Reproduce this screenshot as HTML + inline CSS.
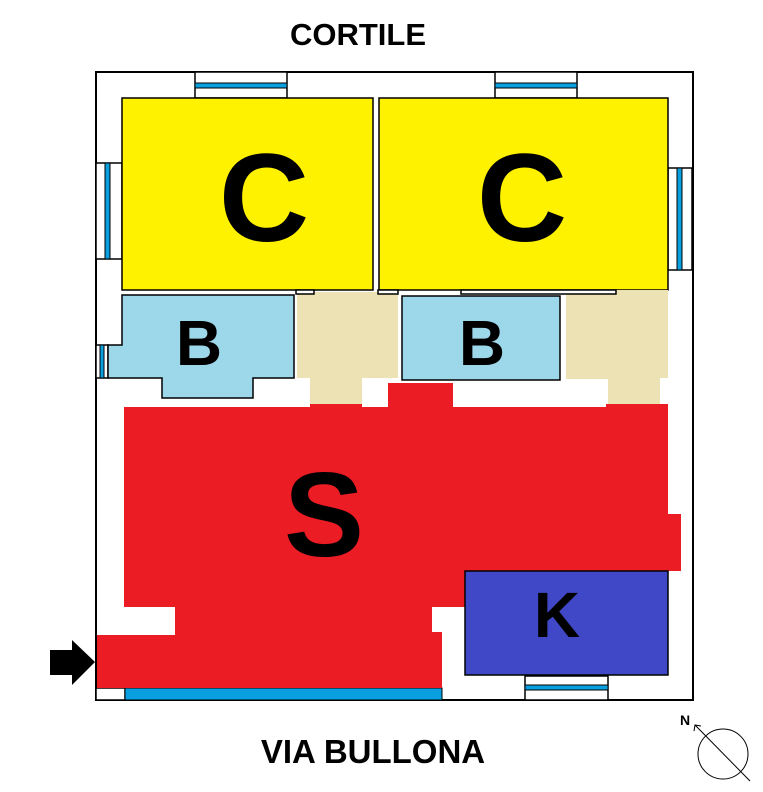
<!DOCTYPE html>
<html><head><style>body{margin:0;background:#fff}svg{display:block}</style></head><body>
<svg width="763" height="792" viewBox="0 0 763 792" xmlns="http://www.w3.org/2000/svg" font-family="Liberation Sans, sans-serif" font-weight="bold">
<rect x="96" y="72" width="597" height="628" fill="#fff" stroke="#000" stroke-width="2"/>
<!-- windows -->
<g stroke="#000" stroke-width="1.5" fill="#fff">
<rect x="195" y="72" width="92" height="26"/><rect x="495" y="72" width="82" height="26"/>
<rect x="96" y="163" width="26" height="96"/><rect x="668" y="168" width="24" height="102"/>
<rect x="96" y="345" width="12" height="33"/>
<rect x="525" y="676" width="83" height="24"/>
<rect x="96" y="688" width="29" height="12"/>
</g>
<g fill="#0aa0e0" stroke="#000" stroke-width="1">
<rect x="195" y="83" width="92" height="5"/><rect x="495" y="83" width="82" height="5"/>
<rect x="105" y="163" width="5" height="96"/><rect x="677" y="168" width="5" height="102"/>
<rect x="100" y="345" width="4" height="33"/>
<rect x="525" y="685" width="83" height="5"/>
<rect x="125" y="688" width="317" height="12"/>
</g>
<!-- rooms -->
<g stroke="#000" stroke-width="1.5">
<rect x="122" y="98" width="251" height="192" fill="#fff200"/>
<rect x="379" y="98" width="289" height="192" fill="#fff200"/>
<polygon fill="#9dd8ea" points="122,295 294,295 294,378 253,378 253,398 162,398 162,378 108,378 108,345 122,345"/>
<rect x="402" y="296" width="158" height="84" fill="#9dd8ea"/>
<polygon fill="#ede2b3" stroke="none" points="297,292 398,292 398,378 362,378 362,404 310,404 310,378 297,378"/>
<polygon fill="#ede2b3" stroke="none" points="566,290 668,290 668,378 660,378 660,404 608,404 608,379 566,379"/>
<polygon fill="#ec1c24" stroke="none" points="124,407 310,407 310,404 362,404 362,407 388,407 388,383 453,383 453,407 606,407 606,404 668,404 668,514 681,514 681,571 465,571 465,607 432,607 432,632 442,632 442,688 97,688 97,635 175,635 175,607 124,607"/>
<rect x="465" y="571" width="203" height="104" fill="#4148c8"/>
</g>
<g fill="#fff" stroke="#000" stroke-width="1.5">
<rect x="296" y="290" width="18" height="4"/><rect x="378" y="290" width="20" height="4"/>
<rect x="461" y="290" width="155" height="4"/>
</g>
<!-- arrow -->
<polygon points="50,650 72,650 72,640 95,662 72,685 72,675 50,675" fill="#000"/>
<!-- labels -->
<g text-anchor="middle" fill="#000">
<text x="358" y="45" font-size="31">CORTILE</text>
<text x="373" y="763" font-size="33">VIA BULLONA</text>
<text x="264" y="241" font-size="125">C</text>
<text x="522" y="241" font-size="125">C</text>
<text x="199" y="365" font-size="64">B</text>
<text x="482" y="365" font-size="64">B</text>
<text x="324" y="556" font-size="120">S</text>
<text x="557" y="637" font-size="64">K</text>
<text x="685" y="725" font-size="14">N</text>
</g>
<ellipse cx="723" cy="754" rx="25" ry="25" fill="none" stroke="#000" stroke-width="1"/>
<line x1="695" y1="725" x2="750" y2="781" stroke="#000" stroke-width="1"/>
<polyline points="694,731 695,725 701,726" fill="none" stroke="#000" stroke-width="1"/>
</svg>
</body></html>
